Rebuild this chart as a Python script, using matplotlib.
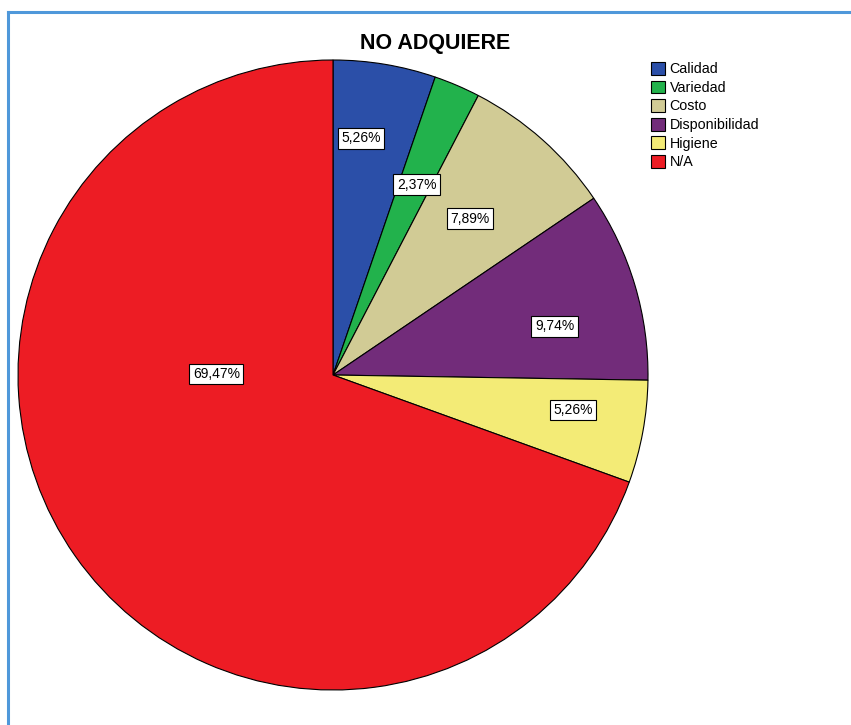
import matplotlib.pyplot as plt
import numpy as np

# Motivos de no adquisición (porcentaje)
categories = ["Calidad", "Variedad", "Costo", "Disponibilidad", "Higiene", "N/A"]
percentages = [5.26, 2.37, 7.89, 9.74, 5.26, 69.47]
colors = ["#2B4FA8", "#22B24C", "#D1CB95", "#722C7A", "#F3EB76", "#ED1C24"]

# where each percentage box sits: (distance from centre / radius, angle in degrees)
label_spots = [(0.757, 83.3), (0.66, 66.3), (0.66, 48.7), (0.72, 12.4), (0.77, -8.3), (0.37, 179.5)]

plt.rcParams["font.family"] = ["Liberation Sans", "DejaVu Sans"]

fig = plt.figure(figsize=(8.51, 7.25), dpi=100)
W, H = 851, 725

# pie axes: centre (333, 375) px, radius 315 px
cx, cy, r = 333, 375, 315
ax = fig.add_axes([(cx - r) / W, (H - cy - r) / H, 2 * r / W, 2 * r / H])
wedges, _ = ax.pie(percentages, colors=colors, startangle=90, counterclock=False,
                   radius=1, wedgeprops=dict(edgecolor="black", linewidth=0.8))
ax.set_xlim(-1, 1)
ax.set_ylim(-1, 1)
ax.set_aspect("equal")
ax.axis("off")

for pct, (dist, ang) in zip(percentages, label_spots):
    a = np.deg2rad(ang)
    ax.text(dist * np.cos(a), dist * np.sin(a), f"{pct:.2f}%".replace(".", ","),
            ha="center", va="center", fontsize=10,
            bbox=dict(boxstyle="square,pad=0.25", facecolor="white", edgecolor="black", linewidth=0.8))

fig.text(435 / W, 1 - 44 / H, "NO ADQUIERE", ha="center", va="center",
         fontsize=15.5, fontweight="bold")

fig.legend(wedges, categories, loc="upper left", bbox_to_anchor=(651 / W, 1 - 62 / H),
           frameon=False, fontsize=10.3, handlelength=1.0, handleheight=1.0,
           handletextpad=0.3, labelspacing=0.3, borderaxespad=0, borderpad=0)

# blue frame along the top and left edges
fig.add_artist(plt.Line2D([8 / W, 8 / W], [0, 1 - 12 / H], transform=fig.transFigure,
                          color="#4F98DA", linewidth=2.2))
fig.add_artist(plt.Line2D([8 / W, 1], [1 - 12 / H, 1 - 12 / H], transform=fig.transFigure,
                          color="#4F98DA", linewidth=2.2))

fig.savefig("out.png", dpi=100)
